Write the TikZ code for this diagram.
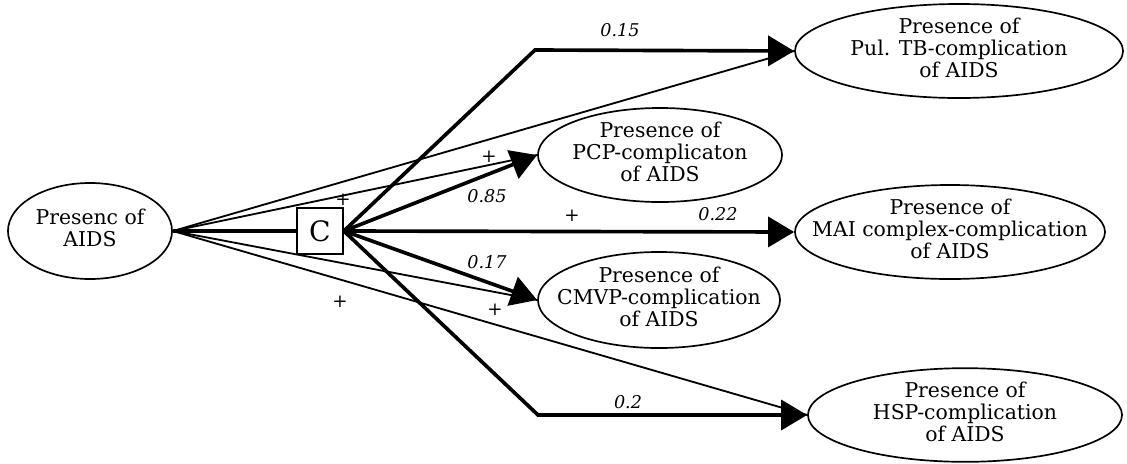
\documentclass[tikz,border=0pt]{standalone}
\usepackage{fontspec}
\setmainfont{DejaVu Serif}
\usetikzlibrary{arrows.meta,shapes.geometric}

\newcommand{\statetext}[1]{\makebox[0pt]{\begin{tabular}{@{}c@{}}#1\end{tabular}}}

\begin{document}
\begin{tikzpicture}[x=0.025cm,y=-0.025cm,
  state/.style={draw,ellipse,line width=1.2pt,inner sep=0pt,font=\fontsize{14.5}{15.6}\selectfont},
  effect/.style={line width=2.6pt,-{Triangle[length=0.65cm,width=0.75cm]}},
  cause/.style={line width=1.3pt},
  prob/.style={font=\fontsize{12.5}{14}\selectfont\itshape},
  sign/.style={font=\fontsize{13}{14}\selectfont}]
\useasboundingbox (0,0) rectangle (1127,463);

% nodes
\node[state,minimum width=4.1cm,minimum height=2.4cm] (aids) at (90,231) {\statetext{Presenc of\\AIDS}};
\node[draw,line width=1.2pt,minimum size=1.15cm,inner sep=0pt,font=\fontsize{20}{22}\selectfont] (c) at (320,231) {C};
\node[state,minimum width=8.2cm,minimum height=2.35cm] (tb) at (959,51) {\statetext{Presence of\\Pul. TB-complication\\of AIDS}};
\node[state,minimum width=6.1cm,minimum height=2.35cm] (pcp) at (660,155) {\statetext{Presence of\\PCP-complicaton\\of AIDS}};
\node[state,minimum width=7.75cm,minimum height=2.35cm] (mai) at (950,232) {\statetext{Presence of\\MAI complex-complication\\of AIDS}};
\node[state,minimum width=6.05cm,minimum height=2.4cm] (cmvp) at (659,300) {\statetext{Presence of\\CMVP-complication\\of AIDS}};
\node[state,minimum width=7.85cm,minimum height=2.15cm] (hsp) at (965,415) {\statetext{Presence of\\HSP-complication\\of AIDS}};
\coordinate (tbbend) at (535,50);
\coordinate (hspbend) at (538,415);

% direct influences
\draw[line width=2.6pt] (aids.east) -- (c.west);
\draw[cause] (aids.east) -- (tb.west);
\draw[cause] (aids.east) -- (pcp.west);
\draw[cause] (aids.east) -- (cmvp.west);
\draw[cause] (aids.east) -- (hsp.west);

% through the C node
\draw[effect] (c.east) -- (tbbend) -- (tb.west);
\draw[effect] (c.east) -- (pcp.west);
\draw[effect] (c.east) -- (mai.west);
\draw[effect] (c.east) -- (cmvp.west);
\draw[effect] (c.east) -- (hspbend) -- (hsp.west);

% labels
\node[prob] (ltb) at (620,30) {0.15};
\node[prob] (lpcp) at (487,196) {0.85};
\node[prob] (lmai) at (718,214) {0.22};
\node[prob] (lcmvp) at (487,262) {0.17};
\node[prob] (lhsp) at (628,402) {0.2};
\node[sign] (stb) at (343,200) {+};
\node[sign] (spcp) at (489,157) {+};
\node[sign] (smai) at (572,216) {+};
\node[sign] (scmvp) at (495,310) {+};
\node[sign] (shsp) at (340,302) {+};
\end{tikzpicture}
\end{document}
